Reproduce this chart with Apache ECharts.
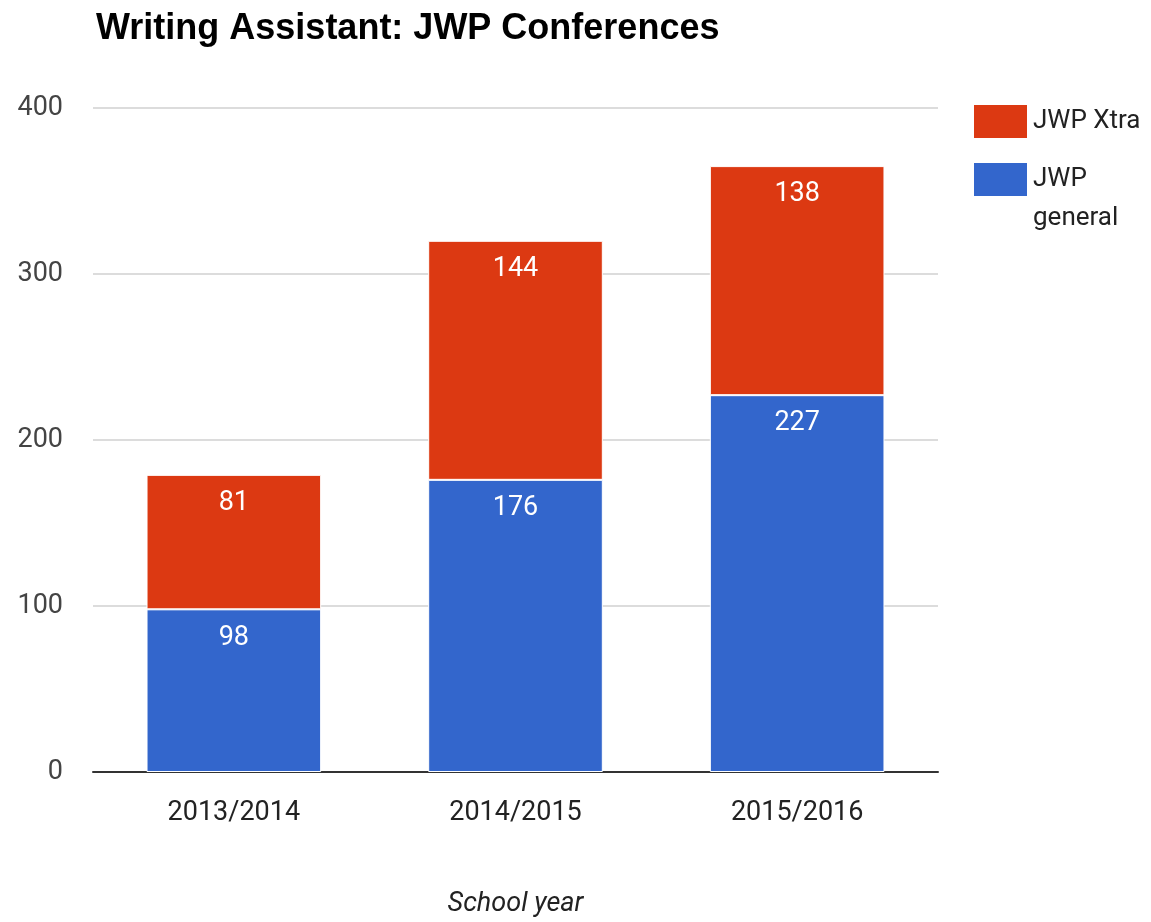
<!DOCTYPE html>
<html><head><meta charset="utf-8">
<script src="https://cdn.jsdelivr.net/npm/echarts@6/dist/echarts.min.js"></script>
<style>html,body{margin:0;padding:0;background:#fff}#c{width:1151px;height:922px}</style>
</head><body><div id="c"></div>
<script>
const categories = ['2013/2014', '2014/2015', '2015/2016'];
const jwpGeneral = [98, 176, 227];
const jwpXtra = [81, 144, 138];
const yTicks = [0, 100, 200, 300, 400];

const chart = echarts.init(document.getElementById('c'));
const labelStyle = {show: true, position: 'insideTop', distance: 15, color: '#fff', fontSize: 27, fontFamily: 'Roboto'};
chart.setOption({
  animation: false,
  title: {text: 'Writing Assistant: JWP Conferences', left: 91, top: 6,
    textStyle: {fontFamily: 'Liberation Sans', fontWeight: 'bold', fontSize: 36, color: '#000'}},
  legend: {
    orient: 'vertical', left: 967, top: 97, itemWidth: 55, itemHeight: 35, itemGap: -20,
    icon: 'rect',
    formatter: n => n === 'JWP general' ? '\nJWP\ngeneral' : n,
    textStyle: {fontFamily: 'Roboto', fontSize: 26, color: '#222', lineHeight: 39},
    data: ['JWP Xtra', 'JWP general']
  },
  grid: {left: 93, right: 213, top: 108, bottom: 150, outerBoundsMode: 'none', containLabel: false},
  xAxis: {
    type: 'category', data: categories,
    name: 'School year', nameLocation: 'middle', nameGap: 119,
    nameTextStyle: {fontFamily: 'Roboto', fontStyle: 'italic', fontSize: 27, color: '#222'},
    axisLine: {lineStyle: {color: '#333', width: 2}},
    axisTick: {show: false},
    axisLabel: {fontFamily: 'Roboto', fontSize: 27, color: '#222', margin: 28}
  },
  yAxis: {
    type: 'value', min: yTicks[0], max: yTicks[yTicks.length - 1], interval: 100,
    axisLine: {show: false}, axisTick: {show: false},
    axisLabel: {fontFamily: 'Roboto', fontSize: 27, color: '#444', margin: 30},
    splitLine: {lineStyle: {color: '#d0d0d0', width: 1.5}}
  },
  series: [
    {name: 'JWP general', type: 'bar', stack: 'a', data: jwpGeneral, barWidth: '62%',
     itemStyle: {color: '#3366cc', borderColor: '#fff', borderWidth: 1}, label: labelStyle},
    {name: 'JWP Xtra', type: 'bar', stack: 'a', data: jwpXtra,
     itemStyle: {color: '#dc3912', borderColor: '#fff', borderWidth: 1}, label: labelStyle}
  ]
});
</script></body></html>
